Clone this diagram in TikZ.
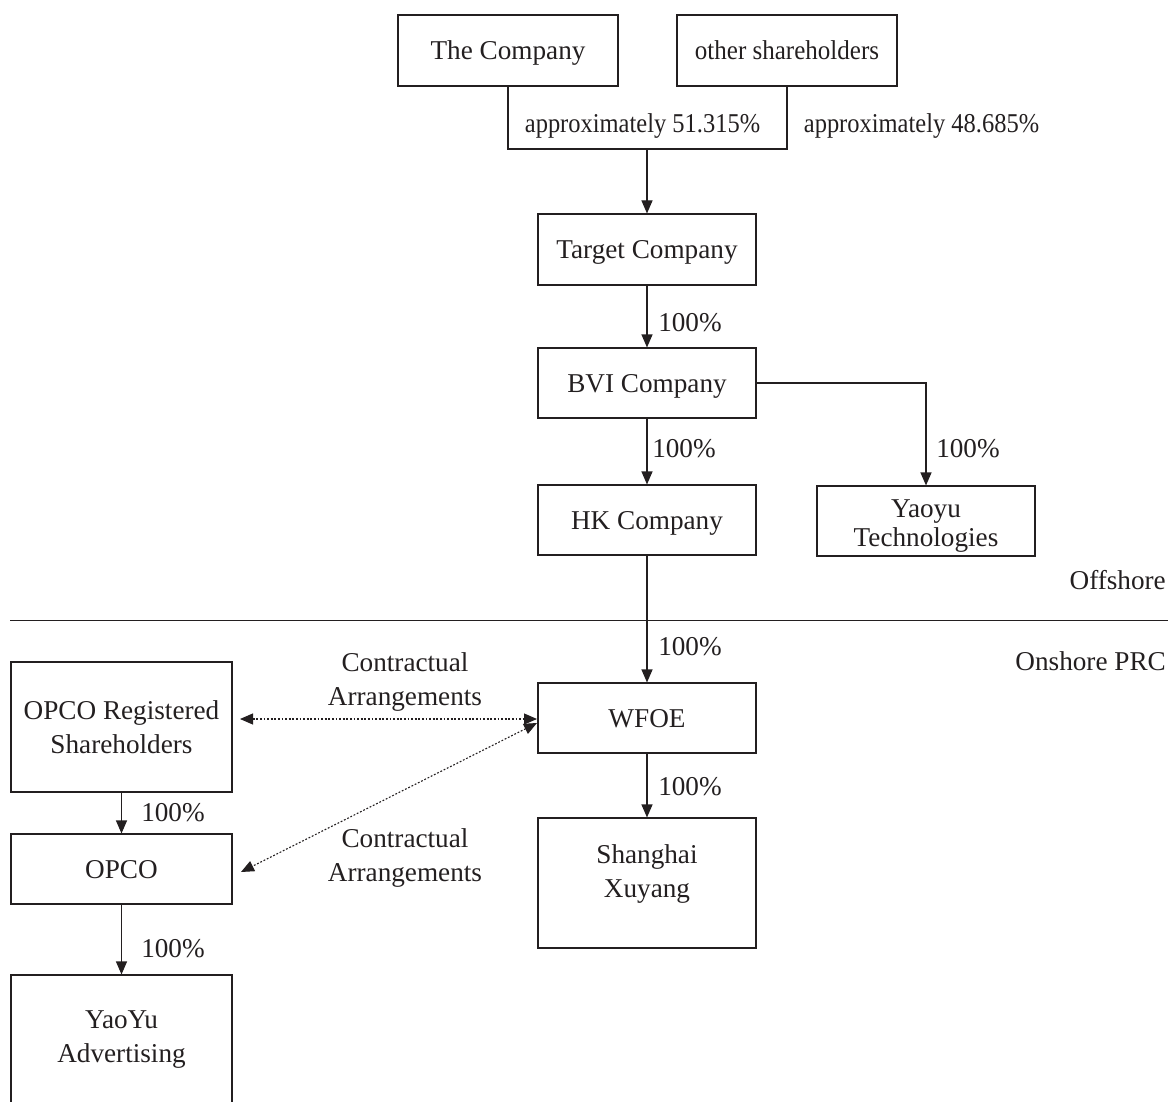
\documentclass[tikz,border=0pt]{standalone}
\usepackage{fontspec}
\setmainfont{Liberation Serif}
\usetikzlibrary{arrows.meta}
\definecolor{ink}{RGB}{35,31,32}
\begin{document}
\begin{tikzpicture}[x=1pt,y=-1pt,
  font=\fontsize{27.2}{34}\selectfont, color=ink,
  box/.style={draw, line width=1.1pt, minimum width=218pt, minimum height=70pt, align=center, inner sep=0pt},
  one/.style={text height=18pt, text depth=0pt},
  conn/.style={line width=1.1pt},
  arr/.style={conn,-{Triangle[length=13pt,width=11pt]}},
  dots/.style={line width=1.1pt, dash pattern=on 1.8pt off 1.8pt,
     {Triangle[length=13pt,width=11pt]}-{Triangle[length=13pt,width=11pt]}},
  lbl/.style={inner sep=0pt, align=center}]
\useasboundingbox (0,0) rectangle (1168,1102);
% top
\node[box, one, minimum width=220pt, minimum height=71pt] (co) at (508,50.5) {The Company};
\node[box, one, minimum width=220pt, minimum height=71pt] (oth) at (787,50.5) {\scalebox{0.92}[1]{other shareholders}};
\coordinate (ml) at (508,149);
\coordinate (mr) at (787,149);
\coordinate (mc) at (647,149);
\draw[conn] (co.south) -- (ml) -- (mr) -- (oth.south);
\node[lbl, one] (p1) at (642.5,124) {\scalebox{0.9}[1]{approximately 51.315\%}};
\node[lbl, one] (p2) at (921.5,124) {\scalebox{0.9}[1]{approximately 48.685\%}};
% chain
\node[box, one, minimum height=71pt] (tc) at (647,249.5) {Target Company};
\node[box, one] (bvi) at (647,383) {BVI Company};
\node[box, one] (hk) at (647,520) {HK Company};
\node[box] (yt) at (926,521) {};
\node[lbl] (ytt) at (926,526) {Yaoyu\\[-5pt]Technologies};
\node[box, one] (wfoe) at (647,718) {WFOE};
\node[box, minimum height=130pt] (sx) at (647,883) {};
\node[lbl] (sxt) at (647,874) {Shanghai\\Xuyang};
\node[box, minimum width=221pt, minimum height=130pt] (ors) at (121.5,727) {OPCO Registered\\Shareholders};
\node[box, one, minimum width=221pt] (opco) at (121.5,869) {OPCO};
\node[box, minimum width=221pt, minimum height=130pt] (ya) at (121.5,1040) {YaoYu\\Advertising};
% arrows
\draw[arr] (mc) -- (mc |- tc.north);
\draw[arr] (tc.south) -- (bvi.north);
\draw[arr] (bvi.south) -- (hk.north);
\draw[arr] (bvi.east) -| (yt.north);
\draw[arr] (hk.south) -- (wfoe.north);
\draw[arr] (wfoe.south) -- (sx.north);
\draw[arr] (ors.south) -- (opco.north);
\draw[arr] (opco.south) -- (ya.north);
\node[lbl, one] (l1) at (690,322) {100\%};
\node[lbl, one] (l2) at (684,448) {100\%};
\node[lbl, one] (l3) at (968,448) {100\%};
\node[lbl, one] (l4) at (690,646) {100\%};
\node[lbl, one] (l5) at (690,786) {100\%};
\node[lbl, one] (l6) at (173,812) {100\%};
\node[lbl, one] (l7) at (173,948) {100\%};
% offshore / onshore
\coordinate (hl) at (10,620);
\coordinate (hr) at (1168,620);
\draw[line width=1pt] (hl) -- (hr);
\node[lbl, one, anchor=east] (off) at (1166,580) {Offshore};
\node[lbl, one, anchor=east] (on) at (1166,661) {Onshore PRC};
% contractual
\coordinate (c1a) at (240,719);
\coordinate (c1b) at (537,719);
\coordinate (c2a) at (537,723);
\coordinate (c2b) at (241,872);
\draw[dots] (c1a) -- (c1b);
\draw[dots] (c2a) -- (c2b);
\node[lbl] (ca1) at (405,682) {Contractual\\Arrangements};
\node[lbl] (ca2) at (405,858) {Contractual\\Arrangements};
\end{tikzpicture}
\end{document}
